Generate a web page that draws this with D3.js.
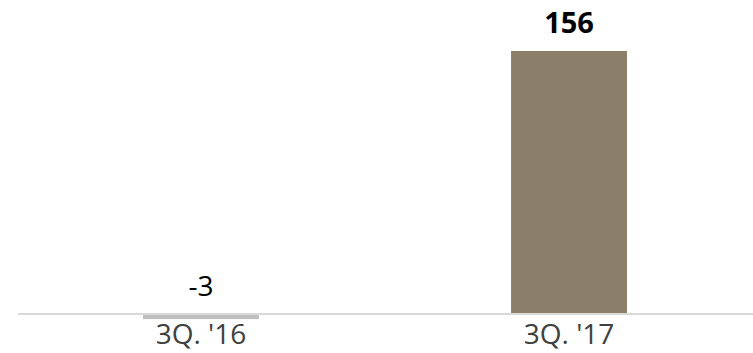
<!DOCTYPE html>
<html>
<head>
<meta charset="utf-8">
<script src="https://cdn.jsdelivr.net/npm/d3@7"></script>
<style>
  html, body { margin: 0; padding: 0; background: #fff; }
  svg { display: block; }
</style>
</head>
<body>
<svg id="chart" width="753" height="353"></svg>
<script>
// Quarterly comparison
const categories = ["3Q. '16", "3Q. '17"];
const values = [-3, 156];
const valueLabels = ["-3", "156"];
const barColors = ["#bfbfbf", "#8c7f6a"];

const svg = d3.select("#chart");
const W = 753;

const x = d3.scaleBand()
  .domain(categories)
  .range([17, 753])
  .paddingInner(0.685)
  .paddingOuter(0.3424);

const y = d3.scaleLinear()
  .domain([0, 156])
  .range([314, 51]);

// bars
svg.selectAll("rect.bar")
  .data(values)
  .join("rect")
  .attr("class", "bar")
  .attr("x", (d, i) => x(categories[i]))
  .attr("width", x.bandwidth())
  .attr("y", d => Math.min(y(d), y(0)))
  .attr("height", d => Math.abs(y(d) - y(0)))
  .attr("fill", (d, i) => barColors[i]);

// zero line
svg.append("line")
  .attr("x1", 18).attr("x2", W)
  .attr("y1", y(0)).attr("y2", y(0))
  .attr("stroke", "#d9d9d9")
  .attr("stroke-width", 2);

// value labels above each bar (negative values sit above the zero line)
svg.selectAll("text.val")
  .data(values)
  .join("text")
  .attr("class", "val")
  .attr("x", (d, i) => x(categories[i]) + x.bandwidth() / 2)
  .attr("y", d => Math.min(y(d), y(0)) - 18.5)
  .attr("text-anchor", "middle")
  .attr("font-family", "'Open Sans', sans-serif")
  .attr("font-size", (d, i) => i === 1 ? 29 : 28)
  .attr("font-weight", (d, i) => i === 1 ? "bold" : "normal")
  .attr("fill", "#000")
  .text((d, i) => valueLabels[i]);

// category axis labels
const axis = d3.axisBottom(x).tickSize(0).tickPadding(0);
const g = svg.append("g")
  .attr("transform", `translate(0,${y(0)})`)
  .call(axis);
g.select(".domain").remove();
g.selectAll("text")
  .attr("dy", null)
  .attr("y", 30)
  .attr("font-family", "'Open Sans', sans-serif")
  .attr("font-size", 28)
  .attr("fill", "#404040");
</script>
</body>
</html>
